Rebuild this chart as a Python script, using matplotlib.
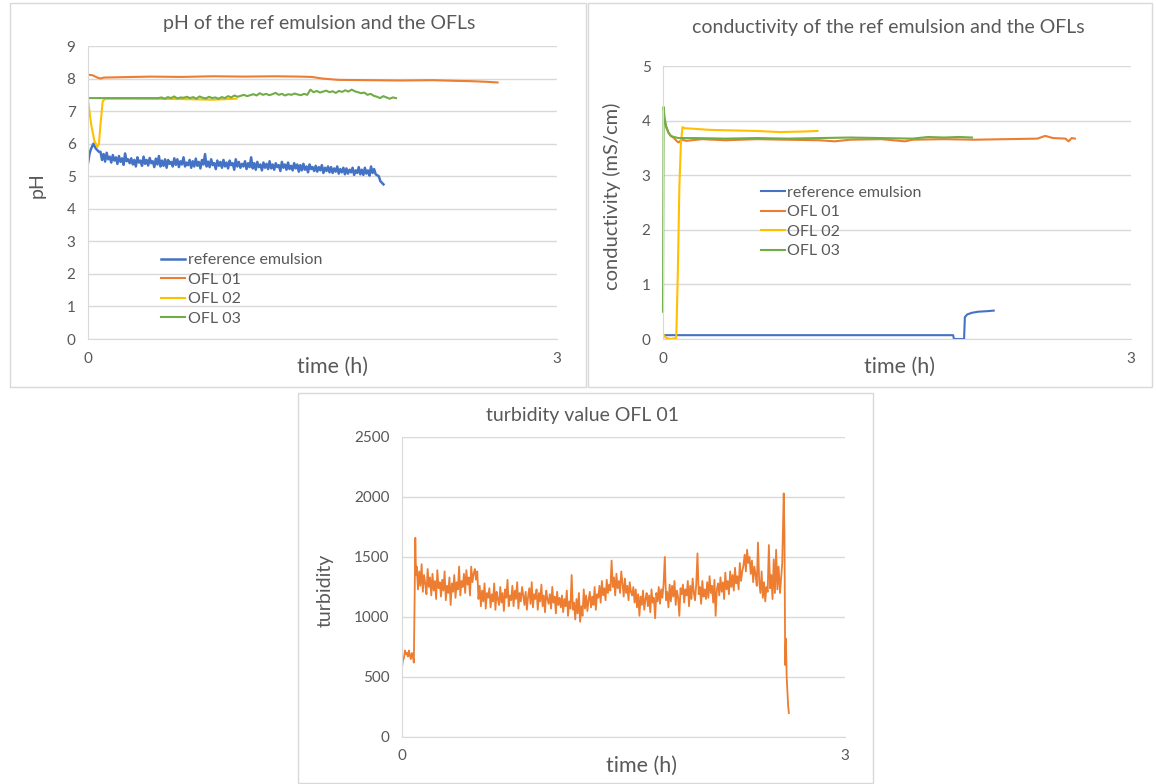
import numpy as np
import matplotlib.pyplot as plt
from matplotlib.patches import Rectangle

plt.rcParams['font.family'] = ['Lato', 'DejaVu Sans']

W, H = 1156, 784
BLUE, ORANGE, YELLOW, GREEN = '#4472C4', '#ED7D31', '#FFC000', '#70AD47'
GRAY_TXT = '#595959'
GRID = '#D9D9D9'

# ---------------- pH panel ----------------
ph_ref_t_head = [0, 0.01, 0.02, 0.035, 0.05, 0.07]
ph_ref_v_head = [5.4, 5.7, 5.85, 6.0, 5.85, 5.75]
ph_ref_band = [
    5.75, 5.50, 5.68, 5.45, 5.72, 5.52, 5.60, 5.42, 5.65, 5.48,
    5.58, 5.38, 5.62, 5.44, 5.55, 5.35, 5.70, 5.46, 5.52, 5.40,
    5.55, 5.36, 5.50, 5.30, 5.58, 5.42, 5.48, 5.32, 5.60, 5.38,
    5.50, 5.33, 5.56, 5.40, 5.46, 5.28, 5.54, 5.36, 5.62, 5.30,
    5.48, 5.32, 5.52, 5.26, 5.50, 5.38, 5.44, 5.30, 5.55, 5.35,
    5.52, 5.28, 5.46, 5.36, 5.58, 5.30, 5.42, 5.34, 5.50, 5.26,
    5.46, 5.30, 5.54, 5.32, 5.44, 5.24, 5.50, 5.36, 5.68, 5.30,
    5.45, 5.28, 5.52, 5.34, 5.40, 5.22, 5.48, 5.32, 5.44, 5.26,
    5.50, 5.30, 5.42, 5.24, 5.48, 5.34, 5.40, 5.20, 5.52, 5.30,
    5.44, 5.26, 5.38, 5.30, 5.46, 5.22, 5.40, 5.28, 5.58, 5.24,
    5.40, 5.20, 5.44, 5.28, 5.36, 5.18, 5.42, 5.26, 5.38, 5.22,
    5.46, 5.24, 5.36, 5.20, 5.40, 5.28, 5.34, 5.16, 5.44, 5.26,
    5.36, 5.20, 5.42, 5.22, 5.32, 5.18, 5.40, 5.24, 5.36, 5.14,
    5.34, 5.18, 5.38, 5.20, 5.30, 5.12, 5.36, 5.22, 5.28, 5.16,
    5.32, 5.14, 5.28, 5.18, 5.34, 5.10, 5.26, 5.16, 5.30, 5.12,
    5.28, 5.10, 5.24, 5.14, 5.30, 5.08, 5.22, 5.12, 5.26, 5.06,
    5.24, 5.08, 5.20, 5.12, 5.26, 5.04, 5.18, 5.10, 5.28, 5.06,
    5.20, 5.04, 5.26, 5.08, 5.18, 5.02, 5.30, 5.10, 5.22, 5.06,
]
ph_ref_t_tail = [1.86, 1.87, 1.88, 1.89]
ph_ref_v_tail = [5.0, 4.85, 4.8, 4.75]

ph_ofl1_t = [0, 0.03, 0.06, 0.08, 0.1, 0.2, 0.4, 0.6, 0.8, 1.0, 1.2, 1.35,
             1.43, 1.5, 1.6, 1.8, 2.0, 2.2, 2.35, 2.45, 2.55, 2.62]
ph_ofl1_v = [8.12, 8.1, 8.03, 8.0, 8.03, 8.04, 8.06, 8.05, 8.07, 8.06, 8.07, 8.06,
             8.05, 8.0, 7.96, 7.95, 7.94, 7.95, 7.93, 7.92, 7.9, 7.88]

ph_ofl2_t = [0, 0.02, 0.04, 0.06, 0.07, 0.08, 0.094, 0.11, 0.3, 0.6, 0.8, 0.95]
ph_ofl2_v = [7.35, 6.6, 6.1, 5.9, 6.0, 6.6, 7.3, 7.38, 7.38, 7.37, 7.35, 7.38]

ph_ofl3_t_head = [0, 0.43]
ph_ofl3_v_head = [7.4, 7.4]
ph_ofl3_band = [
    7.40, 7.42, 7.38, 7.43, 7.40, 7.45, 7.39, 7.42, 7.41, 7.44,
    7.40, 7.43, 7.38, 7.45, 7.41, 7.39, 7.44, 7.40, 7.42, 7.38,
    7.43, 7.40, 7.46, 7.42, 7.48, 7.44, 7.47, 7.50, 7.46, 7.49,
    7.52, 7.48, 7.55, 7.50, 7.53, 7.49, 7.52, 7.56, 7.50, 7.53,
    7.48, 7.52, 7.50, 7.54, 7.51, 7.49, 7.53, 7.50, 7.66, 7.58,
    7.62, 7.57, 7.60, 7.63, 7.58, 7.61, 7.56, 7.62, 7.59, 7.64,
    7.60, 7.66, 7.61, 7.58, 7.55, 7.57, 7.50, 7.53, 7.47, 7.44,
    7.40, 7.46, 7.42, 7.38, 7.42, 7.40,
]

# ---------------- conductivity panel ----------------
co_ref_t = [0, 1.86, 1.865, 1.93, 1.935, 1.95, 1.98, 2.02, 2.08, 2.12]
co_ref_v = [0.07, 0.07, 0.0, 0.0, 0.4, 0.45, 0.48, 0.5, 0.51, 0.52]

co_ofl1_t = [0, 0.01, 0.02, 0.035, 0.05, 0.07, 0.09, 0.10, 0.12, 0.15, 0.25, 0.4,
             0.6, 0.8, 1.0, 1.1, 1.2, 1.4, 1.55, 1.6, 1.8, 2.0, 2.2, 2.4, 2.45,
             2.5, 2.58, 2.6, 2.62, 2.64]
co_ofl1_v = [4.2, 4.0, 3.88, 3.78, 3.72, 3.68, 3.62, 3.6, 3.65, 3.63, 3.66, 3.64,
             3.66, 3.65, 3.64, 3.62, 3.65, 3.66, 3.62, 3.65, 3.66, 3.65, 3.66, 3.67, 3.72,
             3.68, 3.67, 3.62, 3.68, 3.67]

co_ofl2_t = [0, 0.01, 0.02, 0.05, 0.085, 0.095, 0.105, 0.115, 0.125, 0.14, 0.2,
             0.3, 0.45, 0.6, 0.75, 0.9, 0.99]
co_ofl2_v = [0.1, 0.05, 0.02, 0.0, 0.02, 1.2, 2.8, 3.6, 3.88, 3.86, 3.85,
             3.83, 3.82, 3.81, 3.79, 3.8, 3.81]

co_ofl3_t = [0, 0.004, 0.01, 0.02, 0.035, 0.05, 0.07, 0.1, 0.2, 0.4, 0.6, 0.8,
             1.0, 1.2, 1.4, 1.6, 1.7, 1.8, 1.9, 1.98]
co_ofl3_v = [0.5, 4.25, 4.05, 3.9, 3.78, 3.72, 3.7, 3.68, 3.68, 3.67, 3.68, 3.67,
             3.68, 3.69, 3.68, 3.67, 3.7, 3.69, 3.7, 3.69]

# ---------------- turbidity panel ----------------
tu_head = [580, 640, 660, 720, 690, 700, 670, 720, 680, 650, 700, 680, 620]
tu_jump_t = [0.085, 0.09, 0.095]
tu_jump_v = [1100, 1660, 1350]
tu_band = [
    1420, 1230, 1380, 1260, 1440, 1210, 1350, 1280, 1190, 1400,
    1250, 1330, 1180, 1360, 1220, 1300, 1150, 1390, 1240, 1290,
    1170, 1310, 1220, 1380, 1140, 1260, 1200, 1330, 1100, 1280,
    1210, 1350, 1160, 1290, 1230, 1420, 1180, 1300, 1250, 1360,
    1200, 1390, 1270, 1330, 1180, 1420, 1290, 1360, 1400, 1310,
    1380, 1150, 1260, 1090, 1220, 1130, 1280, 1070, 1200, 1160,
    1240, 1080, 1190, 1130, 1280, 1060, 1210, 1150, 1100, 1250,
    1120, 1200, 1050, 1230, 1160, 1310, 1090, 1180, 1140, 1260,
    1090, 1220, 1150, 1290, 1070, 1200, 1130, 1250, 1180, 1100,
    1210, 1060, 1170, 1240, 1110, 1290, 1080, 1190, 1150, 1230,
    1060, 1200, 1130, 1270, 1090, 1180, 1040, 1220, 1150, 1110,
    1190, 1070, 1250, 1120, 1170, 1030, 1210, 1100, 1160, 1080,
    1180, 1040, 1150, 1090, 1220, 1010, 1130, 1070, 1350, 1060,
    1120, 980, 1150, 1030, 1200, 960, 1090, 1010, 1230, 1070,
    1180, 1050, 1140, 1210, 1080, 1170, 1100, 1250, 1060, 1190,
    1160, 1260, 1120, 1300, 1180, 1240, 1140, 1310, 1200, 1270,
    1220, 1470, 1250, 1330, 1180, 1360, 1240, 1300, 1200, 1380,
    1280, 1170, 1320, 1200, 1260, 1140, 1290, 1210, 1180, 1250,
    1120, 1230, 1080, 1190, 1010, 1170, 1100, 1220, 1060, 1150,
    1200, 1090, 1180, 1040, 1230, 1120, 1160, 990, 1200, 1130,
    1250, 1110, 1230, 1160, 1280, 1500, 1140, 1210, 1080, 1270,
    1130, 1260, 1170, 1300, 1100, 1220, 1160, 1010, 1240, 1190,
    1270, 1120, 1230, 1180, 1300, 1090, 1260, 1150, 1320, 1200,
    1140, 1280, 1530, 1190, 1250, 1110, 1300, 1170, 1230, 1150,
    1290, 1160, 1340, 1200, 1260, 1120, 1310, 1010, 1230, 1280,
    1180, 1330, 1210, 1290, 1150, 1370, 1230, 1300, 1190, 1380,
    1250, 1350, 1220, 1410, 1280, 1340, 1230, 1450, 1300, 1380,
    1430, 1520, 1380, 1560, 1450, 1500, 1360, 1470, 1290, 1420,
    1350, 1260, 1620, 1300, 1200, 1380, 1160, 1290, 1130, 1250,
    1210, 1600, 1240, 1350, 1150, 1480, 1200, 1560, 1230, 1420,
]
tu_tail_t = [2.56, 2.575, 2.585, 2.59, 2.595, 2.60, 2.605, 2.615, 2.62]
tu_tail_v = [1200, 1450, 2030, 1700, 600, 820, 500, 260, 200]

legend_labels = ['reference emulsion', 'OFL 01', 'OFL 02', 'OFL 03']


def fx(x):
    return x / W


def fy(y):
    return 1 - y / H


def style_axes(ax, ymax, ystep):
    ax.set_xlim(0, 3)
    ax.set_ylim(0, ymax)
    ax.set_xticks([0, 3])
    ax.set_yticks(np.arange(0, ymax + ystep / 2, ystep))
    ax.yaxis.grid(True, color=GRID, lw=1)
    ax.set_axisbelow(True)
    for s in ['top', 'right']:
        ax.spines[s].set_visible(False)
    ax.spines['left'].set_color(GRID)
    ax.spines['bottom'].set_color(GRID)
    ax.tick_params(length=0, labelsize=11, labelcolor=GRAY_TXT)
    ax.tick_params(axis='y', pad=9)
    ax.tick_params(axis='x', pad=9)


fig = plt.figure(figsize=(W / 100, H / 100), dpi=100)

# panel frames
for x0, y0, x1, y1 in [(10, 3, 586, 387), (588, 3, 1152, 387), (298, 393, 873, 783)]:
    fig.add_artist(Rectangle((fx(x0), fy(y1)), fx(x1 - x0), (y1 - y0) / H,
                             transform=fig.transFigure, fill=False,
                             edgecolor='#D9D9D9', lw=1))

leg_kw = dict(loc='upper left', frameon=False, fontsize=11.5, labelcolor=GRAY_TXT,
              handlelength=1.5, handletextpad=0.15, labelspacing=0.33, borderaxespad=0)

# pH
ax1 = fig.add_axes([fx(88), fy(339), fx(557 - 88), (339 - 46) / H])
style_axes(ax1, 9, 1)
ref_t = ph_ref_t_head + list(np.linspace(0.08, 1.84, len(ph_ref_band))) + ph_ref_t_tail
ref_v = ph_ref_v_head + ph_ref_band + ph_ref_v_tail
ax1.plot(ref_t, ref_v, color=BLUE, lw=1.8, label=legend_labels[0])
ax1.plot(ph_ofl1_t, ph_ofl1_v, color=ORANGE, lw=1.5, label=legend_labels[1])
ax1.plot(ph_ofl2_t, ph_ofl2_v, color=YELLOW, lw=1.5, label=legend_labels[2])
g_t = ph_ofl3_t_head + list(np.linspace(0.45, 1.97, len(ph_ofl3_band)))
g_v = ph_ofl3_v_head + ph_ofl3_band
ax1.plot(g_t, g_v, color=GREEN, lw=1.5, label=legend_labels[3])
ax1.legend(bbox_to_anchor=(0.143, 0.315), **leg_kw)
fig.text(fx(319), fy(24), 'pH of the ref emulsion and the OFLs', ha='center', va='center',
         fontsize=14, color=GRAY_TXT)
fig.text(fx(333), fy(367), 'time (h)', ha='center', va='center', fontsize=15.5, color=GRAY_TXT)
fig.text(fx(37), fy(185), 'pH', ha='center', va='center', rotation=90, fontsize=14,
         color=GRAY_TXT)

# conductivity
ax2 = fig.add_axes([fx(663), fy(339), fx(1131 - 663), (339 - 66) / H])
style_axes(ax2, 5, 1)
ax2.plot(co_ref_t, co_ref_v, color=BLUE, lw=1.5, label=legend_labels[0])
ax2.plot(co_ofl1_t, co_ofl1_v, color=ORANGE, lw=1.5, label=legend_labels[1])
ax2.plot(co_ofl2_t, co_ofl2_v, color=YELLOW, lw=1.5, label=legend_labels[2])
ax2.plot(co_ofl3_t, co_ofl3_v, color=GREEN, lw=1.5, label=legend_labels[3],
         clip_on=False)
ax2.legend(bbox_to_anchor=(0.195, 0.585), **leg_kw)
fig.text(fx(888), fy(27), 'conductivity of the ref emulsion and the OFLs', ha='center',
         va='center', fontsize=14, color=GRAY_TXT)
fig.text(fx(900), fy(367), 'time (h)', ha='center', va='center', fontsize=15.5, color=GRAY_TXT)
fig.text(fx(612), fy(196), 'conductivity (mS/cm)', ha='center', va='center', rotation=90,
         fontsize=14.5, color=GRAY_TXT)

# turbidity
ax3 = fig.add_axes([fx(402), fy(737), fx(845 - 402), (737 - 437) / H])
style_axes(ax3, 2500, 500)
tu_t = (list(np.linspace(0, 0.08, len(tu_head))) + tu_jump_t
        + list(np.linspace(0.1, 2.55, len(tu_band))) + tu_tail_t)
tu_v = tu_head + tu_jump_v + tu_band + tu_tail_v
ax3.plot(tu_t, tu_v, color=ORANGE, lw=1.3)
fig.text(fx(583), fy(416), 'turbidity value OFL 01', ha='center', va='center',
         fontsize=14, color=GRAY_TXT)
fig.text(fx(642), fy(766), 'time (h)', ha='center', va='center', fontsize=15.5, color=GRAY_TXT)
fig.text(fx(325), fy(590), 'turbidity', ha='center', va='center', rotation=90,
         fontsize=14, color=GRAY_TXT)

fig.savefig('out.png', dpi=100)
